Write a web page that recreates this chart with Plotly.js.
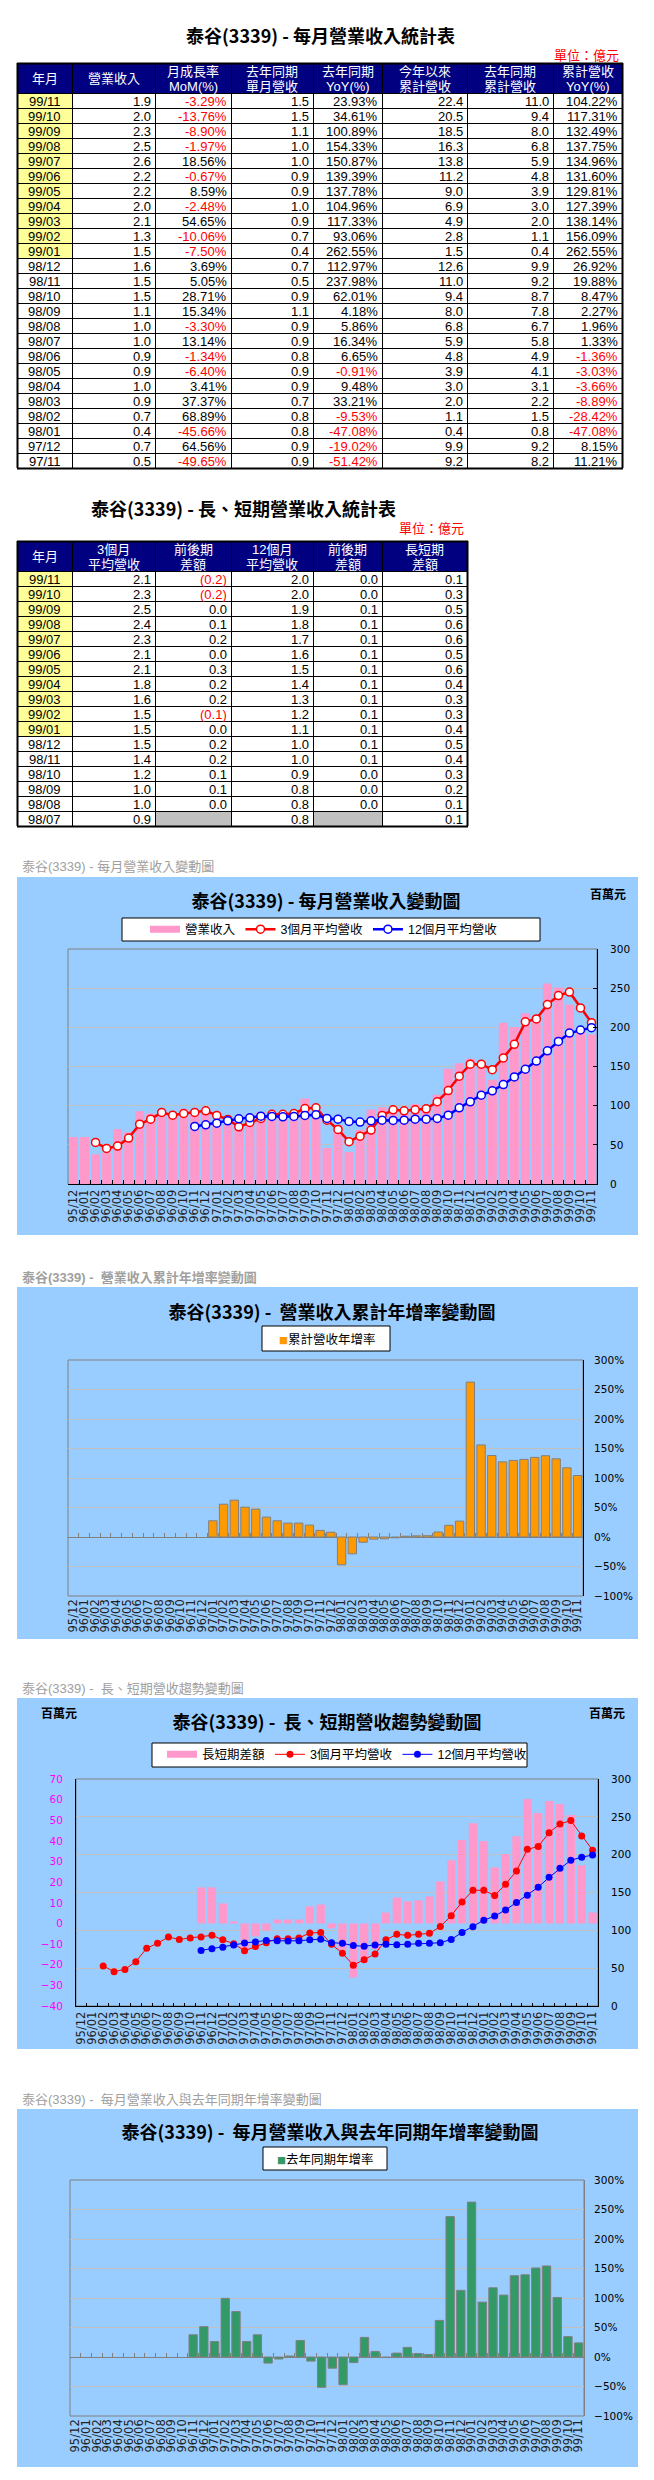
<!DOCTYPE html>
<html>
<head>
<meta charset="utf-8">
<script src="https://cdn.plot.ly/plotly-3.0.1.min.js"></script>
<style>
  body { margin: 0; background: #ffffff; width: 654px; height: 2480px; position: relative; }
  .block { position: absolute; left: 0; width: 654px; }
</style>
</head>
<body>
<div id="table_monthly" class="block" style="top:0px;height:475px"></div>
<div id="table_trend" class="block" style="top:480px;height:350px"></div>
<div id="chart_revenue" class="block" style="top:855px;height:385px"></div>
<div id="chart_cumyoy" class="block" style="top:1262px;height:380px"></div>
<div id="chart_gap" class="block" style="top:1675px;height:380px"></div>
<div id="chart_yoy" class="block" style="top:2085px;height:390px"></div>
<script>
// DATA: monthly series, 95/12 - 99/11 (百萬元 / %)

var months = [
  "95/12",
  "96/01", "96/02", "96/03", "96/04", "96/05", "96/06",
  "96/07", "96/08", "96/09", "96/10", "96/11", "96/12",
  "97/01", "97/02", "97/03", "97/04", "97/05", "97/06",
  "97/07", "97/08", "97/09", "97/10", "97/11", "97/12",
  "98/01", "98/02", "98/03", "98/04", "98/05", "98/06",
  "98/07", "98/08", "98/09", "98/10", "98/11", "98/12",
  "99/01", "99/02", "99/03", "99/04", "99/05", "99/06",
  "99/07", "99/08", "99/09", "99/10", "99/11",
];

var revenue = [
  60,
  60, 38, 40, 70, 66, 93, 90, 91, 86, 96, 91, 92,
  77, 76, 71, 89, 92, 85, 88, 93, 109, 90, 46, 75,
  41, 69, 95, 98, 91, 90, 102, 99, 114, 147, 154, 160,
  148, 133, 206, 200, 218, 215, 256, 251, 229, 198, 191,
];

var avg3 = [
  null,
  null, 53, 45.4, 48.4, 58.6, 76.4, 82.8, 91.3, 87.9, 90, 91.3, 93.4,
  87.5, 82.4, 73, 78.6, 83.7, 89, 89, 90, 96.4, 97.2, 81.5, 69.6,
  54, 61, 68.8, 87.5, 94.7, 93.4, 94.7, 96, 105, 119.3, 137.6, 152.9,
  152.9, 146, 161, 178.3, 207, 210.7, 229, 240.6, 245, 224.8, 206,
];

var avg12 = [
  null,
  null, null, null, null, null, null, null, null, null, null, 73.5, 75.6,
  77.7, 80.7, 83.2, 84.5, 86.6, 86.2, 85.8, 86.2, 87.5, 88.3, 83.7, 82.8,
  79.8, 79, 80.7, 81.5, 81.1, 81.5, 82.8, 82.8, 83.7, 87.9, 97.2, 104.9,
  113.4, 118.9, 127, 136.7, 146.5, 157, 170, 182, 192.7, 196.6, 199.6,
];

var gap = [
  null,
  null, null, null, null, null, null, null, null, null, null, 17.5, 17.5,
  9.7, 1.0, -12.8, -6.3, -3.4, 1.9, 1.9, 1.9, 8.3, 9.2, -2.4, -12.8,
  -26.2, -17.5, -12.5, 5.3, 12.6, 10.7, 11.2, 13.1, 20.4, 30.6, 40.4, 48.6,
  39.9, 27.2, 33.6, 42.3, 60.3, 53.5, 59.3, 57.9, 52.5, 28.2, 5.3,
];

var cumYoy = [
  null,
  null, null, null, null, null, null, null, null, null, null, null, null,
  27.5, 55.6, 62.4, 50.6, 47.2, 33.7, 27.5, 23.6, 23.6, 20.2, 11.21, 8.15,
  -47.08, -28.42, -8.89, -3.66, -3.03, -1.36, 1.33, 1.96, 2.27, 8.47, 19.88, 26.92,
  262.55, 156.09, 138.14, 127.39, 129.81, 131.6, 134.96, 137.75, 132.49, 117.31, 104.22,
];

var yoy = [
  null,
  null, null, null, null, null, null, null, null, null, null, 37.7, 51.4,
  26.3, 99.4, 77.1, 26.3, 37.7, -10.3, -3.4, 1.7, 28.0, -6.9, -51.42, -19.02,
  -47.08, -9.53, 33.21, 9.48, -0.91, 6.65, 16.34, 5.86, 4.18, 62.01, 237.98, 112.97,
  262.55, 93.06, 117.33, 104.96, 137.78, 139.39, 150.87, 154.33, 100.89, 34.61, 23.93,
];

// DATA: table 1 (億元)

var t1_month = [
  "99/11", "99/10", "99/09", "99/08", "99/07", "99/06", "99/05", "99/04",
  "99/03", "99/02", "99/01", "98/12", "98/11", "98/10", "98/09", "98/08",
  "98/07", "98/06", "98/05", "98/04", "98/03", "98/02", "98/01", "97/12", "97/11",
];
var t1_rev = [1.9, 2.0, 2.3, 2.5, 2.6, 2.2, 2.2, 2.0, 2.1, 1.3, 1.5, 1.6, 1.5, 1.5, 1.1, 1.0, 1.0, 0.9, 0.9, 1.0, 0.9, 0.7, 0.4, 0.7, 0.5];
var t1_mom = [-3.29, -13.76, -8.9, -1.97, 18.56, -0.67, 8.59, -2.48, 54.65, -10.06, -7.5, 3.69, 5.05, 28.71, 15.34, -3.3, 13.14, -1.34, -6.4, 3.41, 37.37, 68.89, -45.66, 64.56, -49.65];
var t1_lastRev = [1.5, 1.5, 1.1, 1.0, 1.0, 0.9, 0.9, 1.0, 0.9, 0.7, 0.4, 0.7, 0.5, 0.9, 1.1, 0.9, 0.9, 0.8, 0.9, 0.9, 0.7, 0.8, 0.8, 0.9, 0.9];
var t1_yoy = [23.93, 34.61, 100.89, 154.33, 150.87, 139.39, 137.78, 104.96, 117.33, 93.06, 262.55, 112.97, 237.98, 62.01, 4.18, 5.86, 16.34, 6.65, -0.91, 9.48, 33.21, -9.53, -47.08, -19.02, -51.42];
var t1_cum = [22.4, 20.5, 18.5, 16.3, 13.8, 11.2, 9.0, 6.9, 4.9, 2.8, 1.5, 12.6, 11.0, 9.4, 8.0, 6.8, 5.9, 4.8, 3.9, 3.0, 2.0, 1.1, 0.4, 9.9, 9.2];
var t1_lastCum = [11.0, 9.4, 8.0, 6.8, 5.9, 4.8, 3.9, 3.0, 2.0, 1.1, 0.4, 9.9, 9.2, 8.7, 7.8, 6.7, 5.8, 4.9, 4.1, 3.1, 2.2, 1.5, 0.8, 9.2, 8.2];
var t1_cumYoy = [104.22, 117.31, 132.49, 137.75, 134.96, 131.6, 129.81, 127.39, 138.14, 156.09, 262.55, 26.92, 19.88, 8.47, 2.27, 1.96, 1.33, -1.36, -3.03, -3.66, -8.89, -28.42, -47.08, 8.15, 11.21];

// DATA: table 2 (億元)

var t2_month = [
  "99/11", "99/10", "99/09", "99/08", "99/07", "99/06", "99/05", "99/04", "99/03",
  "99/02", "99/01", "98/12", "98/11", "98/10", "98/09", "98/08", "98/07",
];
var t2_avg3 = [2.1, 2.3, 2.5, 2.4, 2.3, 2.1, 2.1, 1.8, 1.6, 1.5, 1.5, 1.5, 1.4, 1.2, 1.0, 1.0, 0.9];
var t2_avg3Diff = [-0.2, -0.2, 0.0, 0.1, 0.2, 0.0, 0.3, 0.2, 0.2, -0.1, 0.0, 0.2, 0.2, 0.1, 0.1, 0.0, null];
var t2_avg12 = [2.0, 2.0, 1.9, 1.8, 1.7, 1.6, 1.5, 1.4, 1.3, 1.2, 1.1, 1.0, 1.0, 0.9, 0.8, 0.8, 0.8];
var t2_avg12Diff = [0.0, 0.0, 0.1, 0.1, 0.1, 0.1, 0.1, 0.1, 0.1, 0.1, 0.1, 0.1, 0.1, 0.0, 0.0, 0.0, null];
var t2_gap = [0.1, 0.3, 0.5, 0.6, 0.6, 0.5, 0.6, 0.4, 0.3, 0.3, 0.4, 0.5, 0.4, 0.3, 0.2, 0.1, 0.1];

// STYLE

var PAGE_W = 654;
var FONT = "Liberation Sans, Noto Sans CJK TC, sans-serif";
var CJK = "Noto Sans CJK TC, Liberation Sans, sans-serif";
var TICK = "DejaVu Sans, sans-serif";
var ROW_H = 15;
var HEAD_H = 30;
var colEdges = [17, 72, 155, 231, 313, 382, 467, 553, 622];
var config = { displayModeBar: false, responsive: false, displaylogo: false };

function fmt1(v) { return v.toFixed(1); }
function fmtPct(v) { return v.toFixed(2) + "%"; }
function fmtDiff(v) {
  if (v === null) return "";
  return v < 0 ? "(" + (-v).toFixed(1) + ")" : v.toFixed(1);
}

// TABLES

function drawTable(divId, divTop, divH, t) {
  var shapes = [];
  var notes = [];
  var nCols = t.columns.length;
  var left = colEdges[0];
  var right = colEdges[nCols];
  var bodyTop = t.headTop + HEAD_H;
  var nRows = t.columns[0].values.length;
  var bottom = bodyTop + nRows * ROW_H;

  notes.push({
    text: "<b>" + t.title + "</b>", x: t.titleX, y: t.titleY, xanchor: "center", yanchor: "middle",
    showarrow: false, font: { family: CJK, size: 18, color: "#000000" },
  });
  notes.push({
    text: "單位：億元", x: t.unitX, y: t.unitY, xanchor: "right", yanchor: "middle",
    showarrow: false, font: { family: CJK, size: 13, color: "#FF0000" },
  });

  shapes.push({
    type: "rect", x0: left, x1: right, y0: t.headTop, y1: bodyTop,
    fillcolor: "#000080", line: { width: 0 }, layer: "below",
  });

  for (var c = 0; c < nCols; c++) {
    var col = t.columns[c];
    var cx = (colEdges[c] + colEdges[c + 1]) / 2;
    if (col.head.length === 1) {
      notes.push({
        text: col.head[0], x: cx, y: t.headTop + HEAD_H / 2, xanchor: "center", yanchor: "middle",
        showarrow: false, font: { family: FONT, size: 13, color: "#FFFFFF" },
      });
    } else {
      notes.push({
        text: col.head[0], x: cx, y: t.headTop + 8.5, xanchor: "center", yanchor: "middle",
        showarrow: false, font: { family: FONT, size: 13, color: "#FFFFFF" },
      });
      notes.push({
        text: col.head[1], x: cx, y: t.headTop + 23, xanchor: "center", yanchor: "middle",
        showarrow: false, font: { family: FONT, size: 13, color: "#FFFFFF" },
      });
    }

    for (var r = 0; r < nRows; r++) {
      var v = col.values[r];
      var y0 = bodyTop + r * ROW_H;
      var txt = col.fmt ? col.fmt(v) : v;
      if (c === 0 && String(v).indexOf("99/") === 0) {
        shapes.push({
          type: "rect", x0: colEdges[c], x1: colEdges[c + 1], y0: y0, y1: y0 + ROW_H,
          fillcolor: "#FFFF99", line: { width: 0 }, layer: "below",
        });
      }
      if (v === null) {
        shapes.push({
          type: "rect", x0: colEdges[c], x1: colEdges[c + 1], y0: y0, y1: y0 + ROW_H,
          fillcolor: "#C0C0C0", line: { width: 0 }, layer: "below",
        });
        continue;
      }
      var isLeft = c === 0;
      notes.push({
        text: txt,
        x: isLeft ? cx : colEdges[c + 1] - 2,
        y: y0 + ROW_H / 2 + 0.5,
        xanchor: isLeft ? "center" : "right",
        yanchor: "middle",
        showarrow: false,
        font: { family: FONT, size: 13, color: col.signed && v < 0 ? "#FF0000" : "#000000" },
      });
    }
  }

  // grid lines
  for (var e = 0; e <= nCols; e++) {
    shapes.push({
      type: "line", x0: colEdges[e] + 0.5, x1: colEdges[e] + 0.5, y0: t.headTop, y1: bottom,
      line: { color: "#000000", width: e === 0 || e === nCols ? 2 : 1 },
    });
  }
  for (var k = 0; k <= nRows + 1; k++) {
    var yy = k === 0 ? t.headTop : bodyTop + (k - 1) * ROW_H;
    shapes.push({
      type: "line", x0: left, x1: right + 1, y0: yy + 0.5, y1: yy + 0.5,
      line: { color: "#000000", width: k === 0 || k === nRows + 1 ? 2 : 1 },
    });
  }

  var layout = {
    width: PAGE_W,
    height: divH,
    margin: { l: 0, r: 0, t: 0, b: 0 },
    paper_bgcolor: "#FFFFFF",
    plot_bgcolor: "#FFFFFF",
    xaxis: { range: [0, PAGE_W], visible: false, fixedrange: true },
    yaxis: { range: [divTop + divH, divTop], visible: false, fixedrange: true },
    shapes: shapes,
    annotations: notes,
    showlegend: false,
  };
  Plotly.newPlot(divId, [], layout, config);
}

drawTable("table_monthly", 0, 475, {
  title: "泰谷(3339) - 每月營業收入統計表",
  titleX: 320, titleY: 35, unitX: 621, unitY: 54, headTop: 63,
  columns: [
    { head: ["年月"], values: t1_month },
    { head: ["營業收入"], values: t1_rev, fmt: fmt1 },
    { head: ["月成長率", "MoM(%)"], values: t1_mom, fmt: fmtPct, signed: true },
    { head: ["去年同期", "單月營收"], values: t1_lastRev, fmt: fmt1 },
    { head: ["去年同期", "YoY(%)"], values: t1_yoy, fmt: fmtPct, signed: true },
    { head: ["今年以來", "累計營收"], values: t1_cum, fmt: fmt1 },
    { head: ["去年同期", "累計營收"], values: t1_lastCum, fmt: fmt1 },
    { head: ["累計營收", "YoY(%)"], values: t1_cumYoy, fmt: fmtPct, signed: true },
  ],
});

drawTable("table_trend", 480, 350, {
  title: "泰谷(3339) - 長、短期營業收入統計表",
  titleX: 243, titleY: 508, unitX: 466, unitY: 527, headTop: 541,
  columns: [
    { head: ["年月"], values: t2_month },
    { head: ["3個月", "平均營收"], values: t2_avg3, fmt: fmt1 },
    { head: ["前後期", "差額"], values: t2_avg3Diff, fmt: fmtDiff, signed: true },
    { head: ["12個月", "平均營收"], values: t2_avg12, fmt: fmt1 },
    { head: ["前後期", "差額"], values: t2_avg12Diff, fmt: fmtDiff, signed: true },
    { head: ["長短期", "差額"], values: t2_gap, fmt: fmt1 },
  ],
});

// CHART HELPERS

function paperX(px, m) { return (px - m.l) / (PAGE_W - m.l - m.r); }
function paperY(py, h, m) { return (h - m.b - py) / (h - m.t - m.b); }

function frame(h, m, box) {
  return [
    {
      type: "rect", xref: "paper", yref: "paper",
      x0: paperX(box[0], m), x1: paperX(box[1], m), y0: paperY(box[3], h, m), y1: paperY(box[2], h, m),
      fillcolor: "#99CCFF", line: { width: 0 }, layer: "below",
    },
    {
      type: "rect", xref: "x domain", yref: "y domain", x0: 0, x1: 1, y0: 0, y1: 1,
      line: { color: "#808080", width: 1 }, layer: "below",
    },
  ];
}

function whiteBox(h, m, box) {
  return {
    type: "rect", xref: "paper", yref: "paper",
    x0: paperX(box[0], m), x1: paperX(box[1], m), y0: paperY(box[3], h, m), y1: paperY(box[2], h, m),
    fillcolor: "#FFFFFF", line: { color: "#000000", width: 1 }, layer: "below",
  };
}

function note(text, px, py, h, m, font, xanchor) {
  return {
    text: text, xref: "paper", yref: "paper",
    x: paperX(px, m), y: paperY(py, h, m),
    xanchor: xanchor || "center", yanchor: "middle",
    showarrow: false, font: font,
  };
}

function catAxis(extra) {
  var ax = {
    type: "category",
    range: [-0.5, months.length - 0.5],
    dtick: 1,
    tickangle: -90,
    tickfont: { family: TICK, size: 11.5, color: "#222222" },
    showgrid: false,
    zeroline: false,
    automargin: false,
    fixedrange: true,
    tickson: "boundaries",
    ticks: "",
  };
  for (var k in extra) ax[k] = extra[k];
  return ax;
}

var grayLabel = { family: FONT, size: 13, color: "#A0A0A0" };
var unitFont = { family: CJK, size: 12, color: "#000000" };
var rightTicks = { family: TICK, size: 10.5, color: "#000000" };

// CHART 1: 每月營業收入變動圖

var H1 = 385;
var M1 = { l: 68, r: 57, t: 94, b: 56 };

var trace_revenue = {
  x: months, y: revenue, type: "bar", name: "營業收入", showlegend: false, hoverinfo: "none",
  marker: { color: "#FF99CC" },
};
var trace_revenue_key = {
  x: [null], y: [null], type: "scatter", mode: "lines", name: "營業收入", legendrank: 1,
  line: { color: "#FF99CC", width: 7 }, hoverinfo: "none",
};
var trace_avg3 = {
  x: months, y: avg3, type: "scatter", mode: "lines+markers", name: "3個月平均營收", legendrank: 2,
  hoverinfo: "none", line: { color: "#FF0000", width: 2.5 },
  marker: { symbol: "circle", size: 8, color: "#FFFFFF", line: { color: "#FF0000", width: 1.5 } },
};
var trace_avg12 = {
  x: months, y: avg12, type: "scatter", mode: "lines+markers", name: "12個月平均營收", legendrank: 3,
  hoverinfo: "none", line: { color: "#0000FF", width: 2.5 },
  marker: { symbol: "circle", size: 8, color: "#FFFFFF", line: { color: "#0000FF", width: 1.5 } },
};

var layout_revenue = {
  width: PAGE_W,
  height: H1,
  margin: M1,
  font: { family: FONT },
  paper_bgcolor: "#FFFFFF",
  plot_bgcolor: "#FFFFFF",
  title: {
    text: "<b>泰谷(3339) - 每月營業收入變動圖</b>",
    font: { family: CJK, size: 18, color: "#000000" },
    x: 326 / PAGE_W, xanchor: "center", y: 1 - 47 / H1, yanchor: "middle",
  },
  showlegend: true,
  legend: {
    orientation: "h", x: paperX(145, M1), xanchor: "left", y: paperY(74.5, H1, M1), yanchor: "middle",
    bgcolor: "rgba(0,0,0,0)", borderwidth: 0, font: { family: FONT, size: 12.5, color: "#000000" },
  },
  bargap: 0.18,
  xaxis: catAxis({ showline: true, linecolor: "#000000", ticks: "inside", ticklen: 4, tickcolor: "#000000" }),
  yaxis: {
    side: "right", range: [0, 300], dtick: 50, showgrid: true, gridcolor: "#C0C0C0", zeroline: false,
    showline: true, linecolor: "#000000", ticks: "inside", ticklen: 4, tickcolor: "#000000",
    tickfont: rightTicks, ticklabelstandoff: 10, automargin: false, fixedrange: true,
  },
  shapes: frame(H1, M1, [17, 638, 22, 380]).concat([whiteBox(H1, M1, [122, 540, 63, 86])]),
  annotations: [
    note("泰谷(3339) - 每月營業收入變動圖", 20, 11, H1, M1, grayLabel, "left"),
    note("<b>百萬元</b>", 608, 38, H1, M1, unitFont),
  ],
};

Plotly.newPlot("chart_revenue", [trace_revenue, trace_revenue_key, trace_avg3, trace_avg12], layout_revenue, config);

// CHART 2: 營業收入累計年增率變動圖

var H2 = 380;
var M2 = { l: 68, r: 71, t: 98, b: 46 };

var trace_cumyoy = {
  x: months, y: cumYoy, type: "bar", name: "累計營收年增率", showlegend: false, hoverinfo: "none",
  marker: { color: "#FF9900", line: { color: "#808080", width: 1 } },
};
var trace_cumyoy_ticks = {
  x: months, y: cumYoy, xaxis: "x2", yaxis: "y", type: "scatter", mode: "none",
  showlegend: false, hoverinfo: "skip",
};

var layout_cumyoy = {
  width: PAGE_W,
  height: H2,
  margin: M2,
  font: { family: FONT },
  paper_bgcolor: "#FFFFFF",
  plot_bgcolor: "#FFFFFF",
  title: {
    text: "<b>泰谷(3339) -\u00a0 營業收入累計年增率變動圖</b>",
    font: { family: CJK, size: 18, color: "#000000" },
    x: 332 / PAGE_W, xanchor: "center", y: 1 - 51 / H2, yanchor: "middle",
  },
  showlegend: false,
  bargap: 0.22,
  xaxis: catAxis({}),
  xaxis2: {
    type: "category", overlaying: "x", anchor: "free", position: 0.25, range: [-0.5, months.length - 0.5],
    dtick: 1, showticklabels: false, ticks: "inside", tickson: "boundaries", ticklen: 4, tickcolor: "#808080",
    showline: false, showgrid: false, zeroline: false, layer: "below traces", fixedrange: true,
  },
  yaxis: {
    side: "right", range: [-100, 300], dtick: 50, ticksuffix: "%", showgrid: true, gridcolor: "#C0C0C0",
    zeroline: true, zerolinecolor: "#808080", zerolinewidth: 1, showline: true, linecolor: "#000000",
    ticks: "", tickfont: rightTicks, ticklabelstandoff: 8, automargin: false, fixedrange: true,
  },
  shapes: frame(H2, M2, [17, 638, 25, 377]).concat([whiteBox(H2, M2, [262, 390, 64, 89])]),
  annotations: [
    note("<b>泰谷(3339) -\u00a0 營業收入累計年增率變動圖</b>", 20, 15, H2, M2, { family: FONT, size: 13, color: "#A0A0A0" }, "left"),
    note("<span style=\"color:#FF9900;font-size:9px\">■</span>累計營收年增率", 327, 76.5, H2, M2, { family: CJK, size: 12.5, color: "#000000" }),
  ],
};

Plotly.newPlot("chart_cumyoy", [trace_cumyoy, trace_cumyoy_ticks], layout_cumyoy, config);

// CHART 3: 長、短期營收趨勢變動圖

var H3 = 380;
var M3 = { l: 76, r: 56, t: 104, b: 49 };

var trace_gap = {
  x: months, y: gap, type: "bar", name: "長短期差額", showlegend: false, hoverinfo: "none",
  marker: { color: "#FF99CC" },
};
var trace_gap_key = {
  x: [null], y: [null], type: "scatter", mode: "lines", name: "長短期差額", legendrank: 1,
  line: { color: "#FF99CC", width: 7 }, hoverinfo: "none",
};
var trace_gap_avg3 = {
  x: months, y: avg3, yaxis: "y2", type: "scatter", mode: "lines+markers", name: "3個月平均營收",
  legendrank: 2, hoverinfo: "none", line: { color: "#FF0000", width: 1 },
  marker: { symbol: "circle", size: 7, color: "#FF0000" },
};
var trace_gap_avg12 = {
  x: months, y: avg12, yaxis: "y2", type: "scatter", mode: "lines+markers", name: "12個月平均營收",
  legendrank: 3, hoverinfo: "none", line: { color: "#0000FF", width: 1 },
  marker: { symbol: "circle", size: 7, color: "#0000FF" },
};

var layout_gap = {
  width: PAGE_W,
  height: H3,
  margin: M3,
  font: { family: FONT },
  paper_bgcolor: "#FFFFFF",
  plot_bgcolor: "#FFFFFF",
  title: {
    text: "<b>泰谷(3339) -\u00a0 長、短期營收趨勢變動圖</b>",
    font: { family: CJK, size: 18, color: "#000000" },
    x: 327 / PAGE_W, xanchor: "center", y: 1 - 48 / H3, yanchor: "middle",
  },
  showlegend: true,
  legend: {
    orientation: "h", x: paperX(162, M3), xanchor: "left", y: paperY(79.7, H3, M3), yanchor: "middle",
    bgcolor: "rgba(0,0,0,0)", borderwidth: 0, font: { family: FONT, size: 12.5, color: "#000000" },
  },
  bargap: 0.24,
  xaxis: catAxis({ showline: true, linecolor: "#000000", ticks: "inside", ticklen: 3, tickcolor: "#000000" }),
  yaxis: {
    side: "left", range: [-40, 70], dtick: 10, showgrid: false, zeroline: false,
    showline: true, linecolor: "#000000", ticks: "",
    tickfont: { family: TICK, size: 10.5, color: "#FF00FF" }, ticklabelstandoff: 10,
    automargin: false, fixedrange: true,
  },
  yaxis2: {
    side: "right", overlaying: "y", range: [0, 300], dtick: 50, showgrid: true, gridcolor: "#C0C0C0",
    zeroline: false, showline: true, linecolor: "#000000", ticks: "",
    tickfont: rightTicks, ticklabelstandoff: 10, automargin: false, fixedrange: true,
  },
  shapes: frame(H3, M3, [17, 638, 23, 374]).concat([whiteBox(H3, M3, [152, 527, 68, 92])]),
  annotations: [
    note("泰谷(3339) -\u00a0 長、短期營收趨勢變動圖", 20, 13, H3, M3, grayLabel, "left"),
    note("<b>百萬元</b>", 59, 38, H3, M3, unitFont),
    note("<b>百萬元</b>", 607, 38, H3, M3, unitFont),
  ],
};

Plotly.newPlot("chart_gap", [trace_gap, trace_gap_key, trace_gap_avg3, trace_gap_avg12], layout_gap, config);

// CHART 4: 每月營業收入與去年同期年增率變動圖

var H4 = 390;
var M4 = { l: 70, r: 70, t: 95, b: 59 };

var trace_yoy = {
  x: months, y: yoy, type: "bar", name: "去年同期年增率", showlegend: false, hoverinfo: "none",
  marker: { color: "#339966", line: { color: "#808080", width: 1 } },
};
var trace_yoy_ticks = {
  x: months, y: yoy, xaxis: "x2", yaxis: "y", type: "scatter", mode: "none",
  showlegend: false, hoverinfo: "skip",
};

var layout_yoy = {
  width: PAGE_W,
  height: H4,
  margin: M4,
  font: { family: FONT },
  paper_bgcolor: "#FFFFFF",
  plot_bgcolor: "#FFFFFF",
  title: {
    text: "<b>泰谷(3339) -\u00a0 每月營業收入與去年同期年增率變動圖</b>",
    font: { family: CJK, size: 18, color: "#000000" },
    x: 330 / PAGE_W, xanchor: "center", y: 1 - 48 / H4, yanchor: "middle",
  },
  showlegend: false,
  bargap: 0.22,
  xaxis: catAxis({}),
  xaxis2: {
    type: "category", overlaying: "x", anchor: "free", position: 0.25, range: [-0.5, months.length - 0.5],
    dtick: 1, showticklabels: false, ticks: "inside", tickson: "boundaries", ticklen: 4, tickcolor: "#808080",
    showline: false, showgrid: false, zeroline: false, layer: "below traces", fixedrange: true,
  },
  yaxis: {
    side: "right", range: [-100, 300], dtick: 50, ticksuffix: "%", showgrid: true, gridcolor: "#C0C0C0",
    zeroline: true, zerolinecolor: "#808080", zerolinewidth: 1, showline: true, linecolor: "#808080",
    ticks: "", tickfont: rightTicks, ticklabelstandoff: 7, automargin: false, fixedrange: true,
  },
  shapes: frame(H4, M4, [17, 638, 24, 382]).concat([whiteBox(H4, M4, [263, 387, 62, 85])]),
  annotations: [
    note("泰谷(3339) -\u00a0 每月營業收入與去年同期年增率變動圖", 20, 14, H4, M4, grayLabel, "left"),
    note("<span style=\"color:#339966;font-size:9px\">■</span>去年同期年增率", 325, 73.5, H4, M4, { family: CJK, size: 12.5, color: "#000000" }),
  ],
};

Plotly.newPlot("chart_yoy", [trace_yoy, trace_yoy_ticks], layout_yoy, config);
</script>
</body>
</html>
